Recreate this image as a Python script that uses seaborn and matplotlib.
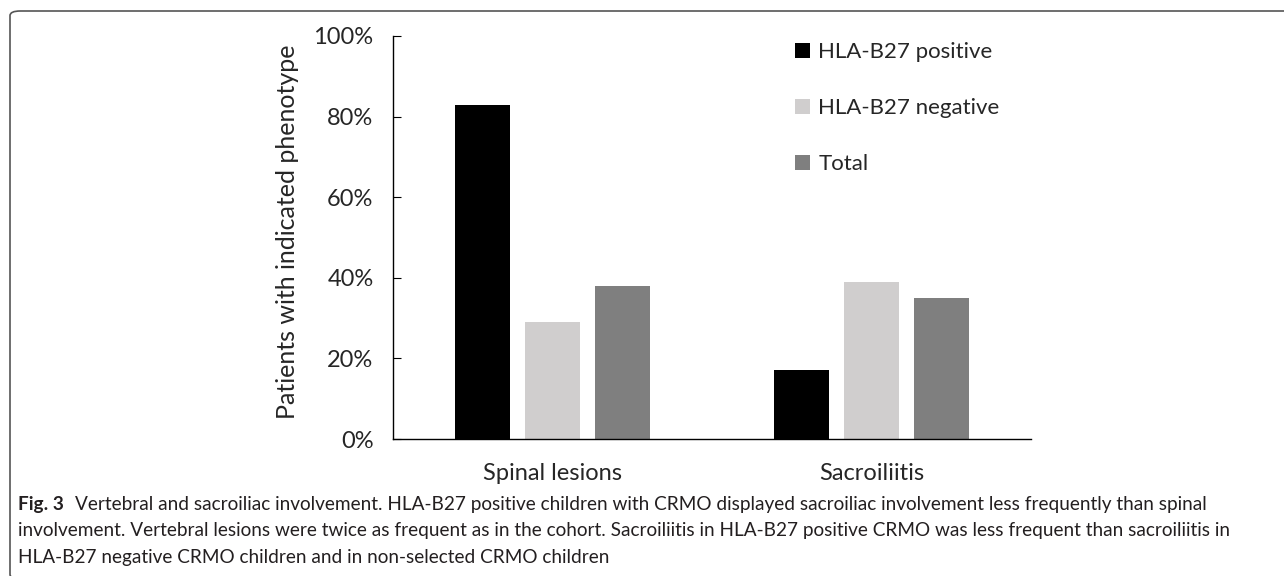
import pandas as pd
import matplotlib.pyplot as plt
import seaborn as sns
from matplotlib.patches import FancyBboxPatch
from matplotlib.ticker import PercentFormatter

# Datos (porcentaje de pacientes)
categorias = ['Spinal lesions', 'Sacroiliitis']
grupos = ['HLA-B27 positive', 'HLA-B27 negative', 'Total']
positivo = [83, 17]
negativo = [29, 39]
total = [38, 35]
colores = ['#000000', '#D0CECE', '#7F7F7F']
ticks_y = [0, 20, 40, 60, 80, 100]

df = pd.DataFrame({
    'categoria': categorias * 3,
    'grupo': [g for g in grupos for _ in categorias],
    'valor': positivo + negativo + total,
})

sns.set_style('white')
plt.rcParams['font.family'] = ['Lato', 'DejaVu Sans']

fig = plt.figure(figsize=(12.84, 5.76), dpi=100)
ax = fig.add_axes([393 / 1284, 1 - 439 / 576, 638 / 1284, 403 / 576])

sns.barplot(data=df, x='categoria', y='valor', hue='grupo', order=categorias,
            hue_order=grupos, palette=colores, width=0.66, gap=0.21,
            saturation=1, linewidth=0, ax=ax)

ax.set_ylim(0, 100)
ax.set_xlim(-0.5, 1.5)
ax.set_yticks(ticks_y)
ax.yaxis.set_major_formatter(PercentFormatter(decimals=0))
ax.set_xlabel('')
ax.set_ylabel('Patients with indicated phenotype', fontsize=18)
ax.yaxis.set_label_coords(-0.147, 0.514)
ax.tick_params(axis='y', direction='in', length=6, width=0.8, color='black',
               labelsize=17, pad=14, left=True)
ax.tick_params(axis='x', length=0, labelsize=17, pad=17)
for lado in ['top', 'right']:
    ax.spines[lado].set_visible(False)
for lado in ['left', 'bottom']:
    ax.spines[lado].set_color('black')
    ax.spines[lado].set_linewidth(1)

sns.move_legend(ax, loc='upper left', bbox_to_anchor=(0.63, 0.984), title=None,
                frameon=False, fontsize=16, handlelength=0.7,
                handleheight=0.7, handletextpad=0.35, labelspacing=1.62,
                borderpad=0, borderaxespad=0)

# Marco redondeado de la figura (sin borde inferior ni derecho visibles)
marco = FancyBboxPatch((10 / 1284, -3 / 576), 1.2, 1 - 8 / 576,
                       boxstyle='round,pad=0,rounding_size=0.008',
                       transform=fig.transFigure, fill=False,
                       edgecolor='#555555', linewidth=1.2, clip_on=False)
fig.patches.append(marco)

# Pie de figura
tam = 13.7
color_txt = '#231F20'
fig_txt = fig.text(18 / 1284, 1 - 513 / 576, 'Fig. 3', fontsize=tam,
                   fontweight='bold', color=color_txt, va='bottom')
ax.annotate('Vertebral and sacroiliac involvement. HLA-B27 positive children with CRMO '
            'displayed sacroiliac involvement less frequently than spinal',
            xy=(1, 0), xycoords=fig_txt, xytext=(8, 0), textcoords='offset points',
            fontsize=tam, color=color_txt, va='bottom', annotation_clip=False)
fig.text(18 / 1284, 1 - 539 / 576,
         'involvement. Vertebral lesions were twice as frequent as in the cohort. '
         'Sacroiliitis in HLA-B27 positive CRMO was less frequent than sacroiliitis in',
         fontsize=tam, color=color_txt, va='bottom')
fig.text(18 / 1284, 1 - 566 / 576,
         'HLA-B27 negative CRMO children and in non-selected CRMO children',
         fontsize=tam, color=color_txt, va='bottom')

fig.savefig('out.png', dpi=100)
